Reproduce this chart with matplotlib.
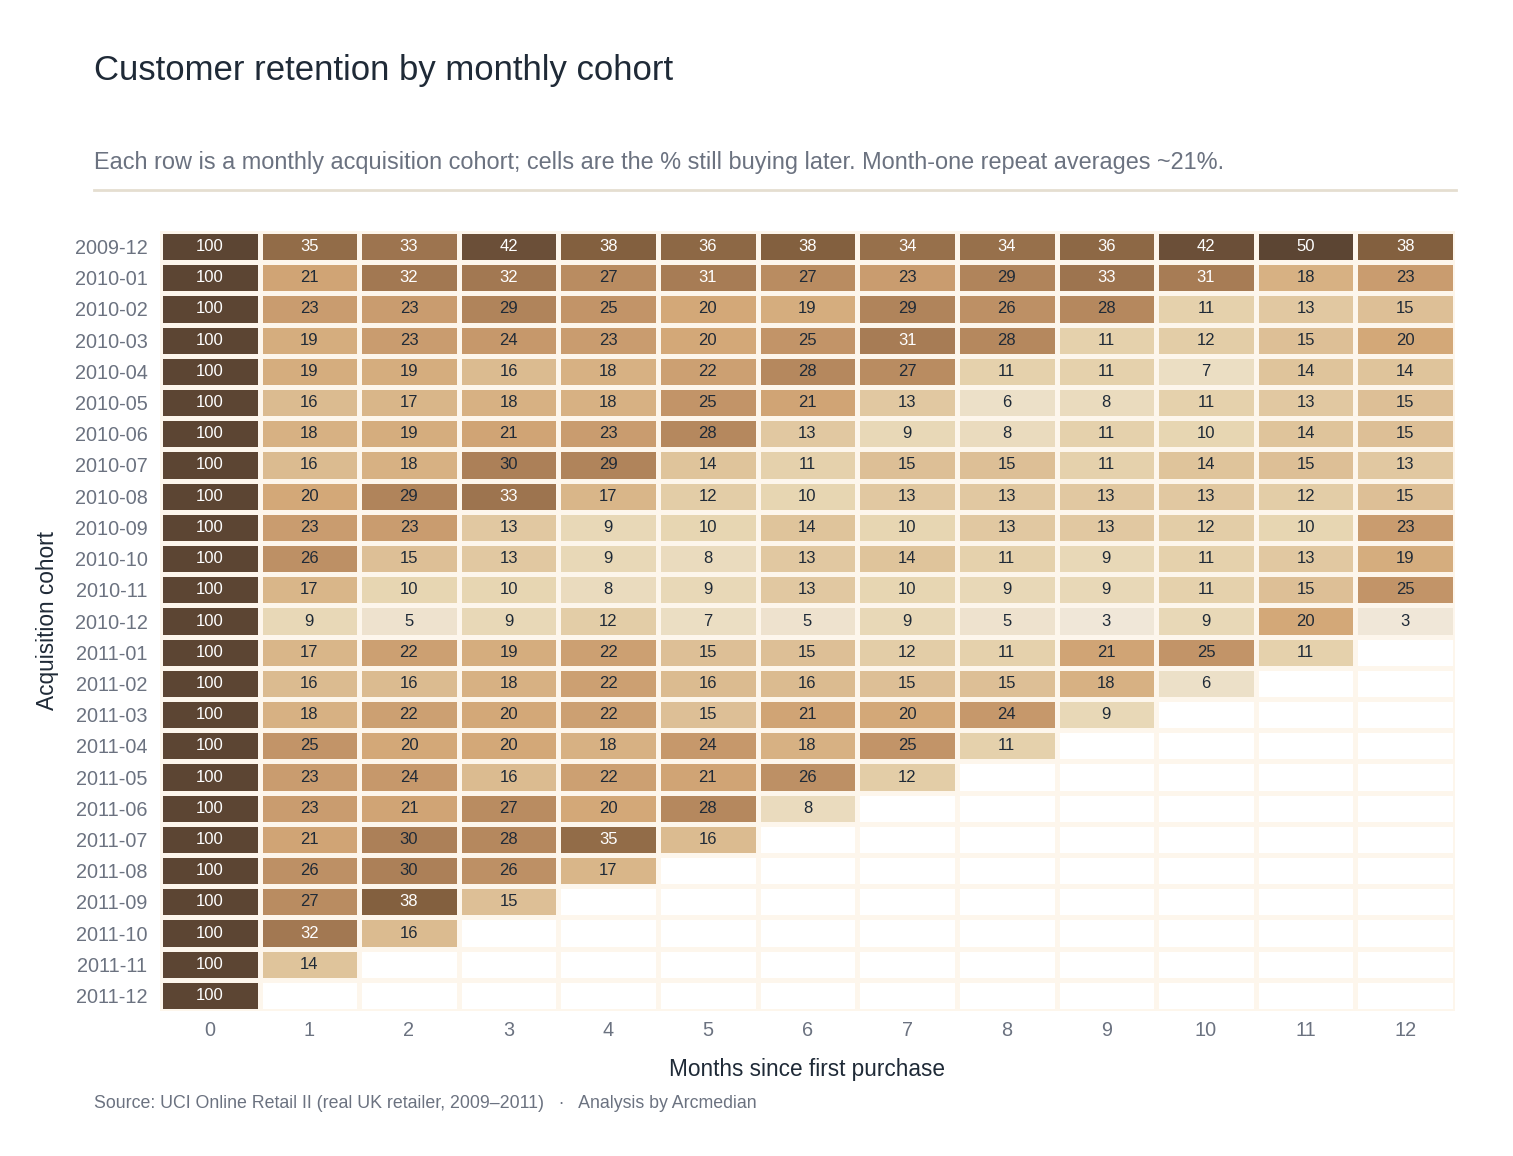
import numpy as np
import matplotlib
matplotlib.use('Agg')
from matplotlib import pyplot as plt
from matplotlib.colors import LinearSegmentedColormap

plt.rcParams['font.family'] = ['Liberation Sans', 'DejaVu Sans']

# cohort labels and retention % by month offset (None = not observed yet)
cohorts = ['2009-12', '2010-01', '2010-02', '2010-03', '2010-04', '2010-05',
           '2010-06', '2010-07', '2010-08', '2010-09', '2010-10', '2010-11',
           '2010-12', '2011-01', '2011-02', '2011-03', '2011-04', '2011-05',
           '2011-06', '2011-07', '2011-08', '2011-09', '2011-10', '2011-11',
           '2011-12']
months = list(range(13))
retention = [
    [100, 35, 33, 42, 38, 36, 38, 34, 34, 36, 42, 50, 38],
    [100, 21, 32, 32, 27, 31, 27, 23, 29, 33, 31, 18, 23],
    [100, 23, 23, 29, 25, 20, 19, 29, 26, 28, 11, 13, 15],
    [100, 19, 23, 24, 23, 20, 25, 31, 28, 11, 12, 15, 20],
    [100, 19, 19, 16, 18, 22, 28, 27, 11, 11, 7, 14, 14],
    [100, 16, 17, 18, 18, 25, 21, 13, 6, 8, 11, 13, 15],
    [100, 18, 19, 21, 23, 28, 13, 9, 8, 11, 10, 14, 15],
    [100, 16, 18, 30, 29, 14, 11, 15, 15, 11, 14, 15, 13],
    [100, 20, 29, 33, 17, 12, 10, 13, 13, 13, 13, 12, 15],
    [100, 23, 23, 13, 9, 10, 14, 10, 13, 13, 12, 10, 23],
    [100, 26, 15, 13, 9, 8, 13, 14, 11, 9, 11, 13, 19],
    [100, 17, 10, 10, 8, 9, 13, 10, 9, 9, 11, 15, 25],
    [100, 9, 5, 9, 12, 7, 5, 9, 5, 3, 9, 20, 3],
    [100, 17, 22, 19, 22, 15, 15, 12, 11, 21, 25, 11],
    [100, 16, 16, 18, 22, 16, 16, 15, 15, 18, 6],
    [100, 18, 22, 20, 22, 15, 21, 20, 24, 9],
    [100, 25, 20, 20, 18, 24, 18, 25, 11],
    [100, 23, 24, 16, 22, 21, 26, 12],
    [100, 23, 21, 27, 20, 28, 8],
    [100, 21, 30, 28, 35, 16],
    [100, 26, 30, 26, 17],
    [100, 27, 38, 15],
    [100, 32, 16],
    [100, 14],
    [100],
]

grid = np.full((len(cohorts), len(months)), np.nan)
for i, row in enumerate(retention):
    grid[i, :len(row)] = row

# brown sequential scale, clipped at 50%
cmap = LinearSegmentedColormap.from_list('retention', [
    (0.00, '#f4ede2'), (0.06, '#f0e7d8'), (0.20, '#e7d6b2'),
    (0.40, '#d3a878'), (0.50, '#c29468'), (0.60, '#ac8058'),
    (0.76, '#83603f'), (0.84, '#6b4f38'), (1.00, '#5c4533')])
cmap.set_bad('white')

fig = plt.figure(figsize=(15.13, 11.56), dpi=100)
ax = fig.add_axes([0.1057, 0.1254, 0.856, 0.6748])

ax.pcolormesh(np.ma.masked_invalid(grid), cmap=cmap, vmin=0, vmax=50,
              edgecolors='#fdf6ec', linewidth=2.5)
ax.set_xlim(0, len(months))
ax.set_ylim(len(cohorts), 0)

for i in range(len(cohorts)):
    for j in range(len(months)):
        v = grid[i, j]
        if np.isnan(v):
            continue
        col = 'white' if v >= 31 else '#1f2a37'
        ax.text(j + 0.5, i + 0.5, f'{v:.0f}', ha='center', va='center',
                fontsize=12, color=col)

ax.set_xticks(np.arange(len(months)) + 0.5)
ax.set_xticklabels([str(m) for m in months])
ax.set_yticks(np.arange(len(cohorts)) + 0.5)
ax.set_yticklabels(cohorts)
ax.tick_params(axis='both', length=0, labelsize=14.3, labelcolor='#6b7280')
ax.tick_params(axis='x', pad=7)
ax.tick_params(axis='y', pad=9)
for s in ax.spines.values():
    s.set_visible(False)

ax.set_xlabel('Months since first purchase', fontsize=16.3, color='#1f2a37',
              labelpad=13)
ax.set_ylabel('Acquisition cohort', fontsize=16.3, color='#1f2a37',
              labelpad=11)

# title block
fig.text(0.0621, 0.939, 'Customer retention by monthly cohort',
         fontsize=25, color='#1f2a37', va='center')
fig.text(0.0621, 0.859,
         'Each row is a monthly acquisition cohort; cells are the % still '
         'buying later. Month-one repeat averages ~21%.',
         fontsize=16.9, color='#6b7280', va='center')
fig.add_artist(plt.Line2D([0.0621, 0.9624], [0.8356, 0.8356],
                          color='#e5ded0', linewidth=2))
fig.text(0.0621, 0.0458,
         'Source: UCI Online Retail II (real UK retailer, 2009\u20132011)   '
         '\u00b7   Analysis by Arcmedian',
         fontsize=12.8, color='#6b7280', va='center')

plt.savefig('out.png', dpi=100, facecolor='white')
